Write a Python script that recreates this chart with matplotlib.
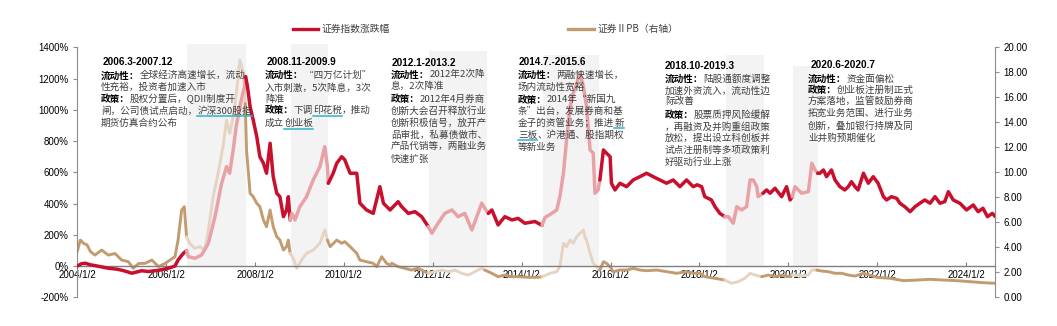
import matplotlib
matplotlib.use("Agg")
import matplotlib.pyplot as plt
from matplotlib.lines import Line2D
from matplotlib.patches import Rectangle
import numpy as np

# ---------------- data (decimal year, value) ----------------
idx_t = [2004.00, 2004.10, 2004.18, 2004.30, 2004.45, 2004.70, 2004.90, 2005.05, 2005.23, 2005.45,
         2005.60, 2005.83, 2006.05, 2006.20, 2006.27, 2006.39, 2006.46,
         2006.50, 2006.65, 2006.80, 2006.95, 2007.10, 2007.25, 2007.36, 2007.43, 2007.51, 2007.58,
         2007.65, 2007.72, 2007.77,
         2007.79, 2007.83, 2007.89, 2007.96, 2008.04, 2008.11, 2008.19, 2008.26, 2008.34, 2008.41,
         2008.49, 2008.56, 2008.64, 2008.71, 2008.75, 2008.79,
         2008.83, 2008.90, 2009.01, 2009.16, 2009.31, 2009.46, 2009.57, 2009.63,
         2009.65, 2009.76, 2009.84, 2009.95, 2010.02, 2010.14, 2010.29, 2010.36, 2010.51, 2010.66,
         2010.81, 2010.89, 2011.04, 2011.22, 2011.30, 2011.45, 2011.60, 2011.75, 2011.90,
         2011.98, 2012.12, 2012.27, 2012.43, 2012.57, 2012.72, 2012.88, 2012.99, 2013.10, 2013.17,
         2013.25, 2013.33, 2013.47, 2013.62, 2013.78, 2013.92, 2014.07, 2014.30, 2014.46,
         2014.52, 2014.64, 2014.79, 2014.86, 2014.94, 2015.01, 2015.09, 2015.16, 2015.24, 2015.31,
         2015.39, 2015.46, 2015.54, 2015.61, 2015.65, 2015.72,
         2015.76, 2015.84, 2015.91, 2015.99, 2016.02, 2016.10, 2016.21, 2016.36, 2016.51, 2016.66,
         2016.81, 2016.96, 2017.11, 2017.26, 2017.41, 2017.56, 2017.71, 2017.86, 2017.95, 2018.05,
         2018.12, 2018.27, 2018.35, 2018.46, 2018.57,
         2018.65, 2018.76, 2018.84, 2018.95, 2019.06, 2019.14, 2019.21, 2019.29, 2019.32, 2019.43,
         2019.51, 2019.59, 2019.70, 2019.85, 2019.96, 2020.04, 2020.09,
         2020.15, 2020.30, 2020.45, 2020.53, 2020.60, 2020.66,
         2020.71, 2020.79, 2020.86, 2020.97, 2021.05, 2021.16, 2021.27, 2021.35, 2021.42, 2021.50,
         2021.57, 2021.69, 2021.80, 2021.91, 2022.02, 2022.14, 2022.21, 2022.32, 2022.44, 2022.51,
         2022.62, 2022.74, 2022.85, 2022.96, 2023.07, 2023.19, 2023.30, 2023.41, 2023.52, 2023.60,
         2023.71, 2023.86, 2024.01, 2024.16, 2024.27, 2024.38, 2024.48, 2024.59, 2024.66]
idx_v = [0, 15, 18, 8, 0, -14, -20, -30, -46, -30,
         -35, -27, -14, 0, 39, 82, 98,
         60, 50, 71, 145, 316, 530, 636, 594, 743, 900,
         1000, 1100, 1150,
         1212, 1150, 1020, 935, 828, 700, 658, 594, 786, 572,
         466, 444, 316, 359, 444, 295,
         337, 295, 380, 444, 551, 636, 764, 636,
         530, 594, 658, 700, 680, 594, 594, 402, 359, 337,
         508, 402, 359, 412, 380, 337, 348, 316, 252,
         210, 274, 337, 359, 316, 337, 231, 316, 402, 370,
         337, 359, 263, 316, 295, 305, 274, 285, 260,
         310, 330, 359, 444, 594, 807, 1020, 1106, 1170, 1234,
         1148, 1020, 743, 722, 466, 487,
         551, 743, 722, 700, 530, 487, 530, 508, 551, 572,
         594, 572, 551, 530, 551, 508, 551, 508, 520, 508,
         444, 423, 380, 337, 316,
         316, 274, 380, 359, 380, 551, 551, 508, 444, 466,
         487, 466, 498, 444, 508, 423, 444,
         508, 466, 476, 658, 615, 594,
         594, 615, 572, 615, 551, 508, 487, 508, 540, 508,
         487, 594, 530, 572, 530, 444, 423, 444, 433, 402,
         380, 348, 380, 402, 423, 402, 444, 402, 412, 476,
         423, 402, 359, 391, 348, 370, 316, 337, 316]

pb_t = [2004.00, 2004.07, 2004.15, 2004.22, 2004.30, 2004.40, 2004.55, 2004.70, 2004.85, 2005.00,
        2005.15, 2005.26, 2005.38, 2005.53, 2005.68, 2005.83, 2005.98, 2006.09, 2006.20, 2006.27,
        2006.35, 2006.41, 2006.46,
        2006.53, 2006.64, 2006.76, 2006.87, 2006.95, 2007.06, 2007.17, 2007.28, 2007.36, 2007.43,
        2007.51, 2007.59, 2007.66, 2007.74, 2007.78,
        2007.81, 2007.89, 2007.96, 2008.04, 2008.11, 2008.19, 2008.26, 2008.34, 2008.41, 2008.49,
        2008.56, 2008.64, 2008.71, 2008.75, 2008.79,
        2008.86, 2008.90, 2008.94, 2009.05, 2009.16, 2009.31, 2009.46, 2009.57, 2009.63,
        2009.69, 2009.84, 2009.95, 2010.02, 2010.14, 2010.29, 2010.36, 2010.51, 2010.66, 2010.74,
        2010.85, 2010.96, 2011.04, 2011.08, 2011.22, 2011.37, 2011.52, 2011.67, 2011.82, 2011.90,
        2012.05, 2012.20, 2012.35, 2012.50, 2012.65, 2012.80, 2012.95, 2013.10, 2013.17,
        2013.33, 2013.47, 2013.62, 2013.77, 2013.92, 2014.15, 2014.37, 2014.46,
        2014.64, 2014.79, 2014.86, 2014.94, 2015.01, 2015.09, 2015.16, 2015.24, 2015.31, 2015.39,
        2015.42, 2015.46, 2015.54, 2015.61, 2015.69, 2015.72,
        2015.76, 2015.84, 2015.91, 2015.99, 2016.06, 2016.21, 2016.36, 2016.51, 2016.66, 2016.81,
        2017.04, 2017.26, 2017.49, 2017.71, 2017.86, 2018.01, 2018.12, 2018.35, 2018.57,
        2018.72, 2018.87, 2019.02, 2019.14, 2019.25, 2019.40,
        2019.55, 2019.70, 2019.85, 2020.00, 2020.09,
        2020.15, 2020.30, 2020.45, 2020.53, 2020.64,
        2020.75, 2020.90, 2021.05, 2021.20, 2021.35, 2021.50, 2021.69, 2021.99, 2022.29, 2022.59,
        2022.89, 2023.19, 2023.49, 2023.79, 2024.09, 2024.38, 2024.66]
pb_v = [3.65, 4.58, 4.30, 4.20, 3.65, 3.38, 3.78, 3.38, 3.50, 2.98,
        2.85, 2.32, 2.70, 2.72, 2.98, 2.45, 2.72, 2.98, 3.25, 4.58,
        6.98, 7.25, 4.85,
        4.32, 3.92, 4.05, 3.78, 5.38, 8.05, 9.92, 12.05, 14.18, 13.12,
        14.45, 16.58, 18.98, 17.92, 15.50,
        11.78, 8.32, 8.05, 7.52, 7.25, 6.18, 5.65, 6.98, 5.65, 4.85,
        4.58, 3.78, 4.05, 4.58, 3.52,
        3.12, 2.72, 2.32, 2.98, 3.52, 3.78, 4.32, 5.38, 4.58,
        4.05, 4.58, 4.32, 4.45, 4.05, 3.52, 2.98, 2.85, 2.72, 2.45,
        3.25, 2.72, 2.58, 2.72, 2.45, 2.32, 2.18, 2.32, 2.05, 1.92,
        2.05, 2.18, 2.05, 2.18, 1.92, 1.78, 2.05, 2.32, 2.18,
        1.92, 1.65, 1.78, 1.65, 1.65, 1.60, 1.60, 1.65,
        1.92, 2.05, 2.45, 4.32, 4.05, 4.58, 4.32, 4.85, 5.12, 5.38,
        4.85, 4.58, 3.52, 2.72, 2.45, 2.32,
        2.18, 2.85, 2.72, 2.45, 2.05, 2.18, 2.18, 2.32, 2.18, 2.13,
        2.18, 2.05, 1.92, 2.05, 1.92, 1.92, 1.65, 1.52, 1.38,
        1.12, 1.25, 1.52, 1.92, 1.78, 1.65,
        1.78, 1.65, 1.78, 1.65, 1.78,
        1.78, 1.70, 1.78, 2.18, 2.18,
        2.10, 2.05, 1.92, 1.92, 1.78, 1.70, 1.92, 1.60, 1.52, 1.33,
        1.38, 1.44, 1.38, 1.33, 1.25, 1.17, 1.12]

band_start = [2006.46, 2008.81, 2011.92, 2014.49, 2018.60, 2020.10]
band_end = [2007.79, 2009.64, 2013.21, 2015.75, 2019.46, 2020.66]
band_top = [1421, 1421, 1378, 1351, 1351, 1280]

x_ticks = [2004, 2006, 2008, 2010, 2012, 2014, 2016, 2018, 2020, 2022, 2024]
x_labels = [f"{y}/1/2" for y in x_ticks]
left_ticks = list(range(-200, 1401, 200))
right_ticks = list(range(0, 21, 2))

# ---------------- style ----------------
W, H = 1057, 326
CJK = ['Noto Sans CJK SC', 'DejaVu Sans']
LAT = ['Liberation Sans', 'DejaVu Sans']
RED, PINK = '#C8102E', '#E8A2A7'
BROWN, TAN = '#C39B70', '#E6D4C3'
BAND = '#F3F3F3'
BODY = '#3F3F3F'
ULC = '#2FB2C8'

fig = plt.figure(figsize=(W / 100, H / 100), dpi=100)
ax = fig.add_axes([77.2 / W, 1 - 297.3 / H, (995 - 77.2) / W, 250 / H])
ax2 = ax.twinx()

ax.set_xlim(2004.0, 2024.65)
ax.set_ylim(-200, 1400)
ax2.set_ylim(0, 20)

for s, e, tp in zip(band_start, band_end, band_top):
    ax.add_patch(Rectangle((s, 0), e - s, tp, facecolor=BAND, edgecolor='none',
                           zorder=0, clip_on=False))


def in_band(t):
    return any(s <= t <= e for s, e in zip(band_start, band_end))


def plot_split(axis, t, v, c_out, c_in, lw, z):
    t = np.asarray(t, float)
    v = np.asarray(v, float)
    n = len(t)
    flags = [in_band(0.5 * (t[i] + t[i + 1])) for i in range(n - 1)]
    i = 0
    while i < n - 1:
        j = i
        while j + 1 < n - 1 and flags[j + 1] == flags[i]:
            j += 1
        axis.plot(t[i:j + 2], v[i:j + 2], color=c_in if flags[i] else c_out,
                  lw=lw, zorder=z, solid_joinstyle='round', solid_capstyle='round')
        i = j + 1


# PB on left-axis scale so that it sits beneath the red line (PB*80-200 == left %)
pb_left = [p * 80 - 200 for p in pb_v]
plot_split(ax, pb_t, pb_left, BROWN, TAN, 2.1, 2)
plot_split(ax, idx_t, idx_v, RED, PINK, 2.5, 3)

# axes styling
for a in (ax, ax2):
    a.spines['top'].set_visible(False)
ax.spines['right'].set_visible(False)
ax2.spines['left'].set_visible(False)
ax2.spines['bottom'].set_visible(False)
ax.spines['left'].set_color('#8C8C8C')
ax2.spines['right'].set_color('#8C8C8C')
ax.spines['bottom'].set_position(('data', 0))
ax.spines['bottom'].set_color('#7F7F7F')
ax.spines['bottom'].set_linewidth(1.0)

ax.set_xticks(x_ticks)
ax.set_xticklabels(x_labels, fontsize=7, family=LAT)
ax.tick_params(axis='x', direction='in', length=3, color='#7F7F7F', pad=3)
ax.set_yticks(left_ticks)
ax.set_yticklabels([f"{v}%" for v in left_ticks], fontsize=7, family=LAT)
ax.tick_params(axis='y', direction='out', length=3, color='#8C8C8C', pad=3)
ax2.set_yticks(right_ticks)
ax2.set_yticklabels([f"{v:.2f}" for v in right_ticks], fontsize=7, family=LAT)
ax2.tick_params(axis='y', direction='out', length=3, color='#8C8C8C', pad=3)
ax.patch.set_visible(False)
ax2.patch.set_visible(False)
ax.set_zorder(1)

# ---------------- legend ----------------
def fx(p):
    return p / W


def fy(p):
    return 1 - p / H


fig.add_artist(Line2D([fx(293), fx(318)], [fy(29), fy(29)], color=RED, lw=2.4,
                      transform=fig.transFigure))
fig.text(fx(322), fy(29), "证券指数涨跌幅", family=CJK, fontsize=7, color=BODY,
         va='center', ha='left')
fig.add_artist(Line2D([fx(568), fx(594)], [fy(29), fy(29)], color=BROWN, lw=2.4,
                      transform=fig.transFigure))
fig.text(fx(597), fy(29), "证券ⅡPB（右轴）", family=CJK, fontsize=7, color=BODY,
         va='center', ha='left')

# ---------------- annotations ----------------
fig.canvas.draw()
renderer = fig.canvas.get_renderer()

blocks = [
    dict(title="2006.3-2007.12", tx=103, ty=62.3, x=101, lines=[
        (75.5, [("流动性：", 'b'), ("全球经济高速增长，流动", 'n')]),
        (87.0, [("性充裕，投资者加速入市", 'n')]),
        (99.3, [("政策：", 'b'), ("股权分置后，QDII制度开", 'n')]),
        (111.0, [("闸，公司债试点启动，", 'n'), ("沪深300股指", 'u')]),
        (123.3, [("期货仿真合约公布", 'n')]),
    ]),
    dict(title="2008.11-2009.9", tx=266.7, ty=62.3, x=265, lines=[
        (75.0, [("流动性：", 'b'), ("“四万亿计划”", 'n')]),
        (87.7, [("入市刺激，5次降息，3次", 'n')]),
        (99.0, [("降准", 'n')]),
        (110.5, [("政策：", 'b'), ("下调", 'n'), ("印花税", 'u'), ("，推动", 'n')]),
        (123.5, [("成立", 'n'), ("创业板", 'u')]),
    ]),
    dict(title="2012.1-2013.2", tx=391.7, ty=62.5, x=391, lines=[
        (74.5, [("流动性：", 'b'), ("2012年2次降", 'n')]),
        (86.0, [("息，2次降准", 'n')]),
        (99.3, [("政策：", 'b'), ("2012年4月券商", 'n')]),
        (111.5, [("创新大会召开释放行业", 'n')]),
        (123.3, [("创新积极信号，放开产", 'n')]),
        (135.0, [("品审批，私募债做市、", 'n')]),
        (146.8, [("产品代销等，两融业务", 'n')]),
        (159.0, [("快速扩张", 'n')]),
    ]),
    dict(title="2014.7.-2015.6", tx=518.3, ty=62.3, x=518, lines=[
        (75.0, [("流动性：", 'b'), ("两融快速增长，", 'n')]),
        (87.0, [("场内流动性宽裕", 'n')]),
        (99.5, [("政策：", 'b'), ("2014年“新国九", 'n')]),
        (111.0, [("条”出台，发展券商和基", 'n')]),
        (123.0, [("金子的资管业务；推进", 'n'), ("新", 'u')]),
        (135.0, [("三板", 'u'), ("、沪港通、股指期权", 'n')]),
        (147.0, [("等新业务", 'n')]),
    ]),
    dict(title="2018.10-2019.3", tx=665, ty=65.7, x=665, lines=[
        (79.0, [("流动性：", 'b'), ("陆股通额度调整", 'n')]),
        (90.7, [("加速外资流入，流动性边", 'n')]),
        (101.7, [("际改善", 'n')]),
        (115.0, [("政策：", 'b'), ("股票质押风险缓解", 'n')]),
        (126.7, [("，再融资及并购重组政策", 'n')]),
        (138.0, [("放松，提出设立科创板并", 'n')]),
        (150.0, [("试点注册制等多项政策利", 'n')]),
        (162.3, [("好驱动行业上涨", 'n')]),
    ]),
    dict(title="2020.6-2020.7", tx=811, ty=65, x=808, lines=[
        (79.0, [("流动性：", 'b'), ("资金面偏松", 'n')]),
        (90.0, [("政策：", 'b'), ("创业板注册制正式", 'n')]),
        (101.5, [("方案落地，监管鼓励券商", 'n')]),
        (113.3, [("拓宽业务范围、进行业务", 'n')]),
        (125.7, [("创新，叠加银行持牌及同", 'n')]),
        (137.7, [("业并购预期催化", 'n')]),
    ]),
]

for b in blocks:
    fig.text(fx(b['tx']), fy(b['ty']), b['title'], family=LAT, fontsize=7.2,
             weight='bold', color='black', va='center', ha='left')
    for y, segs in b['lines']:
        cur = b['x']
        for txt, st in segs:
            kw = dict(family=CJK, fontsize=6.9, va='center', ha='left')
            if st == 'b':
                kw.update(weight='bold', color='black')
            else:
                kw.update(color=BODY)
            t = fig.text(fx(cur), fy(y), txt, **kw)
            w = t.get_window_extent(renderer).width
            if st == 'u':
                fig.add_artist(Line2D([fx(cur), fx(cur + w)], [fy(y + 5.2), fy(y + 5.2)],
                                      color=ULC, lw=1.1, transform=fig.transFigure))
            cur += w

fig.savefig("out.png", dpi=100)
